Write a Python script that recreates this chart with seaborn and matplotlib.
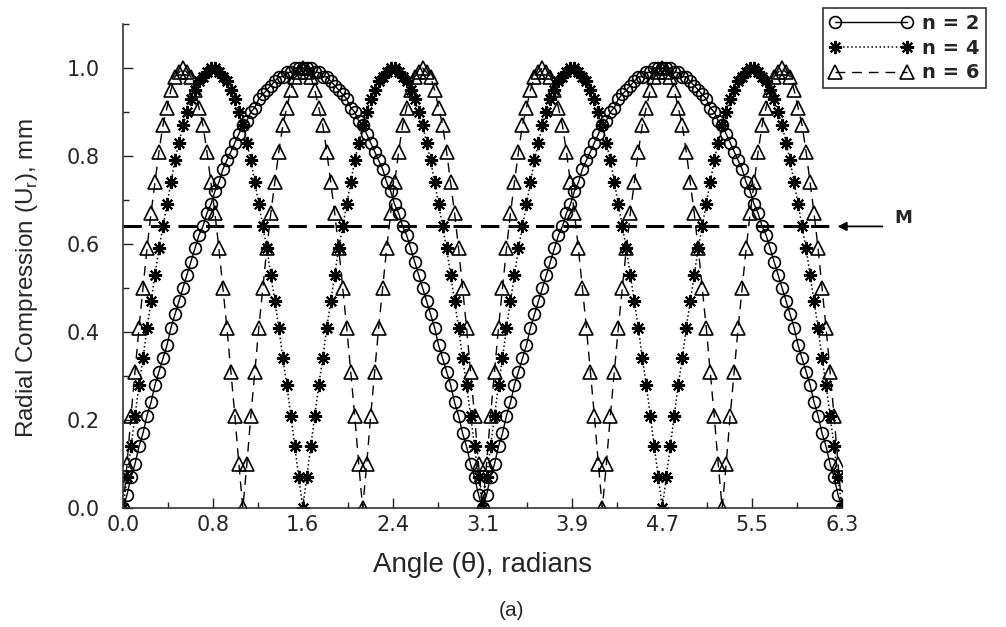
import numpy as np
import pandas as pd
import matplotlib
matplotlib.use("Agg")
import matplotlib.pyplot as plt
from matplotlib.ticker import FixedLocator, MultipleLocator
import seaborn as sns

sns.set_theme(style="ticks")
plt.rcParams["font.family"] = ["Liberation Sans", "DejaVu Sans"]

# angle samples (degrees), 2 deg apart
ANGLE_DEG = [
    0, 2, 4, 6, 8, 10, 12, 14, 16, 18, 20, 22, 24, 26, 28, 30, 32, 34, 36, 38,
    40, 42, 44, 46, 48, 50, 52, 54, 56, 58, 60, 62, 64, 66, 68, 70, 72, 74, 76, 78,
    80, 82, 84, 86, 88, 90, 92, 94, 96, 98, 100, 102, 104, 106, 108, 110, 112, 114, 116, 118,
    120, 122, 124, 126, 128, 130, 132, 134, 136, 138, 140, 142, 144, 146, 148, 150, 152, 154, 156, 158,
    160, 162, 164, 166, 168, 170, 172, 174, 176, 178, 180, 182, 184, 186, 188, 190, 192, 194, 196, 198,
    200, 202, 204, 206, 208, 210, 212, 214, 216, 218, 220, 222, 224, 226, 228, 230, 232, 234, 236, 238,
    240, 242, 244, 246, 248, 250, 252, 254, 256, 258, 260, 262, 264, 266, 268, 270, 272, 274, 276, 278,
    280, 282, 284, 286, 288, 290, 292, 294, 296, 298, 300, 302, 304, 306, 308, 310, 312, 314, 316, 318,
    320, 322, 324, 326, 328, 330, 332, 334, 336, 338, 340, 342, 344, 346, 348, 350, 352, 354, 356, 358,
    360,
]

U_N2 = [
    0.00, 0.03, 0.07, 0.10, 0.14, 0.17, 0.21, 0.24, 0.28, 0.31, 0.34, 0.37, 0.41, 0.44, 0.47, 0.50,
    0.53, 0.56, 0.59, 0.62, 0.64, 0.67, 0.69, 0.72, 0.74, 0.77, 0.79, 0.81, 0.83, 0.85, 0.87, 0.88,
    0.90, 0.91, 0.93, 0.94, 0.95, 0.96, 0.97, 0.98, 0.98, 0.99, 0.99, 1.00, 1.00, 1.00,
    1.00, 1.00, 0.99, 0.99, 0.98, 0.98, 0.97, 0.96, 0.95, 0.94, 0.93, 0.91, 0.90, 0.88, 0.87, 0.85,
    0.83, 0.81, 0.79, 0.77, 0.74, 0.72, 0.69, 0.67, 0.64, 0.62, 0.59, 0.56, 0.53, 0.50, 0.47, 0.44,
    0.41, 0.37, 0.34, 0.31, 0.28, 0.24, 0.21, 0.17, 0.14, 0.10, 0.07, 0.03,
    0.00, 0.03, 0.07, 0.10, 0.14, 0.17, 0.21, 0.24, 0.28, 0.31, 0.34, 0.37, 0.41, 0.44, 0.47, 0.50,
    0.53, 0.56, 0.59, 0.62, 0.64, 0.67, 0.69, 0.72, 0.74, 0.77, 0.79, 0.81, 0.83, 0.85, 0.87, 0.88,
    0.90, 0.91, 0.93, 0.94, 0.95, 0.96, 0.97, 0.98, 0.98, 0.99, 0.99, 1.00, 1.00, 1.00,
    1.00, 1.00, 0.99, 0.99, 0.98, 0.98, 0.97, 0.96, 0.95, 0.94, 0.93, 0.91, 0.90, 0.88, 0.87, 0.85,
    0.83, 0.81, 0.79, 0.77, 0.74, 0.72, 0.69, 0.67, 0.64, 0.62, 0.59, 0.56, 0.53, 0.50, 0.47, 0.44,
    0.41, 0.37, 0.34, 0.31, 0.28, 0.24, 0.21, 0.17, 0.14, 0.10, 0.07, 0.03,
    0.00,
]

U_N4 = [
    0.00, 0.07, 0.14, 0.21, 0.28, 0.34, 0.41, 0.47, 0.53, 0.59, 0.64, 0.69, 0.74, 0.79, 0.83, 0.87,
    0.90, 0.93, 0.95, 0.97, 0.98, 0.99, 1.00, 1.00, 0.99, 0.98, 0.97, 0.95, 0.93, 0.90, 0.87, 0.83,
    0.79, 0.74, 0.69, 0.64, 0.59, 0.53, 0.47, 0.41, 0.34, 0.28, 0.21, 0.14, 0.07,
    0.00, 0.07, 0.14, 0.21, 0.28, 0.34, 0.41, 0.47, 0.53, 0.59, 0.64, 0.69, 0.74, 0.79, 0.83, 0.87,
    0.90, 0.93, 0.95, 0.97, 0.98, 0.99, 1.00, 1.00, 0.99, 0.98, 0.97, 0.95, 0.93, 0.90, 0.87, 0.83,
    0.79, 0.74, 0.69, 0.64, 0.59, 0.53, 0.47, 0.41, 0.34, 0.28, 0.21, 0.14, 0.07,
    0.00, 0.07, 0.14, 0.21, 0.28, 0.34, 0.41, 0.47, 0.53, 0.59, 0.64, 0.69, 0.74, 0.79, 0.83, 0.87,
    0.90, 0.93, 0.95, 0.97, 0.98, 0.99, 1.00, 1.00, 0.99, 0.98, 0.97, 0.95, 0.93, 0.90, 0.87, 0.83,
    0.79, 0.74, 0.69, 0.64, 0.59, 0.53, 0.47, 0.41, 0.34, 0.28, 0.21, 0.14, 0.07,
    0.00, 0.07, 0.14, 0.21, 0.28, 0.34, 0.41, 0.47, 0.53, 0.59, 0.64, 0.69, 0.74, 0.79, 0.83, 0.87,
    0.90, 0.93, 0.95, 0.97, 0.98, 0.99, 1.00, 1.00, 0.99, 0.98, 0.97, 0.95, 0.93, 0.90, 0.87, 0.83,
    0.79, 0.74, 0.69, 0.64, 0.59, 0.53, 0.47, 0.41, 0.34, 0.28, 0.21, 0.14, 0.07,
    0.00,
]

U_N6 = [
    0.00, 0.10, 0.21, 0.31, 0.41, 0.50, 0.59, 0.67, 0.74, 0.81, 0.87, 0.91, 0.95, 0.98, 0.99, 1.00,
    0.99, 0.98, 0.95, 0.91, 0.87, 0.81, 0.74, 0.67, 0.59, 0.50, 0.41, 0.31, 0.21, 0.10,
    0.00, 0.10, 0.21, 0.31, 0.41, 0.50, 0.59, 0.67, 0.74, 0.81, 0.87, 0.91, 0.95, 0.98, 0.99, 1.00,
    0.99, 0.98, 0.95, 0.91, 0.87, 0.81, 0.74, 0.67, 0.59, 0.50, 0.41, 0.31, 0.21, 0.10,
    0.00, 0.10, 0.21, 0.31, 0.41, 0.50, 0.59, 0.67, 0.74, 0.81, 0.87, 0.91, 0.95, 0.98, 0.99, 1.00,
    0.99, 0.98, 0.95, 0.91, 0.87, 0.81, 0.74, 0.67, 0.59, 0.50, 0.41, 0.31, 0.21, 0.10,
    0.00, 0.10, 0.21, 0.31, 0.41, 0.50, 0.59, 0.67, 0.74, 0.81, 0.87, 0.91, 0.95, 0.98, 0.99, 1.00,
    0.99, 0.98, 0.95, 0.91, 0.87, 0.81, 0.74, 0.67, 0.59, 0.50, 0.41, 0.31, 0.21, 0.10,
    0.00, 0.10, 0.21, 0.31, 0.41, 0.50, 0.59, 0.67, 0.74, 0.81, 0.87, 0.91, 0.95, 0.98, 0.99, 1.00,
    0.99, 0.98, 0.95, 0.91, 0.87, 0.81, 0.74, 0.67, 0.59, 0.50, 0.41, 0.31, 0.21, 0.10,
    0.00, 0.10, 0.21, 0.31, 0.41, 0.50, 0.59, 0.67, 0.74, 0.81, 0.87, 0.91, 0.95, 0.98, 0.99, 1.00,
    0.99, 0.98, 0.95, 0.91, 0.87, 0.81, 0.74, 0.67, 0.59, 0.50, 0.41, 0.31, 0.21, 0.10,
    0.00,
]

SERIES = ["n = 2", "n = 4", "n = 6"]
MEAN_LEVEL = 0.64  # "M" line
X_TICKS = [0.0, 0.785, 1.571, 2.356, 3.142, 3.927, 4.712, 5.498, 6.283]
X_TICKLABELS = ["0.0", "0.8", "1.6", "2.4", "3.1", "3.9", "4.7", "5.5", "6.3"]
Y_TICKS = [0.0, 0.2, 0.4, 0.6, 0.8, 1.0]

theta = np.deg2rad(ANGLE_DEG)
df = pd.concat([
    pd.DataFrame({"angle": theta, "u": vals, "n": name})
    for name, vals in zip(SERIES, [U_N2, U_N4, U_N6])
])

styles = {
    "n = 2": dict(marker="o", ms=8.5, linestyle="-", lw=1.0, mew=1.2),
    "n = 4": dict(marker=(8, 2, 0), ms=9.5, linestyle=":", lw=1.1, mew=1.5),
    "n = 6": dict(marker="^", ms=9.5, linestyle=(0, (7, 5)), lw=1.0, mew=1.2),
}

fig = plt.figure(figsize=(10.06, 6.27), dpi=100, facecolor="white")
ax = fig.add_axes([0.1223, 0.1898, 0.7147, 0.7719])
ax.set_facecolor("white")

handles = []
for name in SERIES:
    st = styles[name]
    sns.lineplot(data=df[df["n"] == name], x="angle", y="u", ax=ax,
                 sort=False, estimator=None, legend=False, color="black",
                 marker=st["marker"], markersize=st["ms"], markeredgewidth=st["mew"],
                 markerfacecolor="none", markeredgecolor="black",
                 linestyle=st["linestyle"], linewidth=st["lw"])
    handles.append(ax.get_lines()[-1])

# mean line with arrow and label
ax.plot([0, 6.2], [MEAN_LEVEL, MEAN_LEVEL], color="black", lw=2.2,
        linestyle=(0, (6, 3)))
ax.annotate("", xy=(6.22, MEAN_LEVEL), xytext=(6.66, MEAN_LEVEL),
            arrowprops=dict(arrowstyle="-|>", color="black", lw=1.3,
                            mutation_scale=13), annotation_clip=False)
ax.text(6.82, MEAN_LEVEL + 0.02, "M", fontsize=13, fontweight="bold",
        family="DejaVu Sans", ha="center", va="center", clip_on=False)

ax.set_xlim(0, 2 * np.pi)
ax.set_ylim(0, 1.1)
ax.xaxis.set_major_locator(FixedLocator(X_TICKS))
ax.set_xticklabels(X_TICKLABELS)
ax.xaxis.set_minor_locator(FixedLocator([np.pi / 8 * k for k in range(1, 16, 2)]))
ax.set_yticks(Y_TICKS)
ax.set_yticklabels([f"{v:.1f}" for v in Y_TICKS])
ax.yaxis.set_minor_locator(MultipleLocator(0.1))
ax.tick_params(which="both", direction="in", color="#222222", width=1.0)
ax.tick_params(which="major", length=7, labelsize=15)
ax.tick_params(which="minor", length=4)
ax.tick_params(axis="x", pad=5)
ax.tick_params(axis="y", pad=17)
for lab in ax.get_xticklabels() + ax.get_yticklabels():
    lab.set_fontfamily("DejaVu Sans")

sns.despine(ax=ax)
for side in ["left", "bottom"]:
    ax.spines[side].set_color("#333333")
    ax.spines[side].set_linewidth(1.2)

ax.set_xlabel("Angle (θ), radians", fontsize=20, labelpad=12)
ax.set_ylabel("")
fig.text(27 / 1006, 1 - 278 / 627, "Radial Compression (U$_\\mathregular{r}$), mm",
         rotation=90, fontsize=17.5, ha="center", va="center")

fig.text(511 / 1006, 1 - 611 / 627, "(a)", ha="center", va="center", fontsize=15)

leg = fig.legend(handles, SERIES, loc="upper left",
                 bbox_to_anchor=(823 / 1006, 1 - 8 / 627), frameon=True,
                 fancybox=False, edgecolor="black", numpoints=2,
                 handlelength=4.3, borderpad=0.3, labelspacing=0.3,
                 handletextpad=0.5, borderaxespad=0,
                 prop={"weight": "bold", "size": 14, "family": "DejaVu Sans"})
leg.get_frame().set_linewidth(1.2)

fig.savefig("out.png", dpi=100, facecolor="white")
